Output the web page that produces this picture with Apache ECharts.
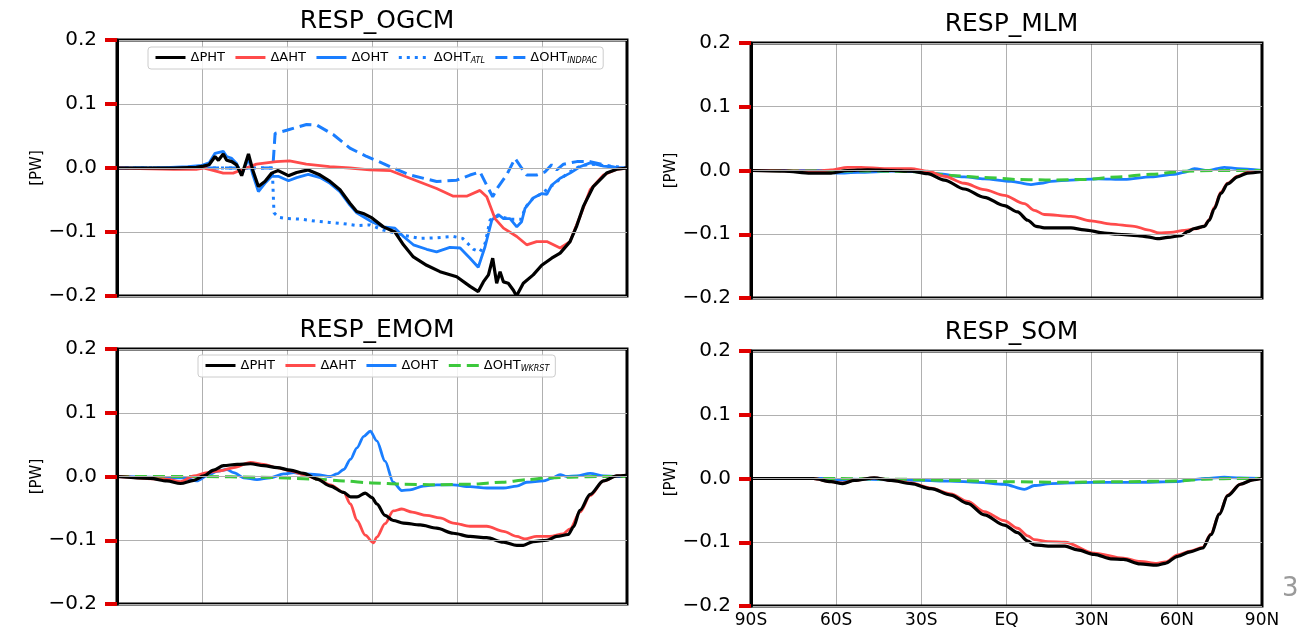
<!DOCTYPE html>
<html>
<head>
<meta charset="utf-8">
<title>Meridional heat transport response</title>
<script src="https://cdn.jsdelivr.net/npm/echarts@6/dist/echarts.min.js"></script>
<style>
  html, body { margin: 0; padding: 0; background: #fff; }
  #chart { width: 1301px; height: 630px; }
</style>
</head>
<body>
<div id="chart"></div>
<script>
// tick labels
const xTickLabels = ['90S', '60S', '30S', 'EQ', '30N', '60N', '90N'];
const yTickLabels = ['\u22120.2', '\u22120.1', '0.0', '0.1', '0.2'];
const panelTitles = ['RESP_OGCM', 'RESP_MLM', 'RESP_EMOM', 'RESP_SOM'];

// RESP_OGCM
const ogcmPhtLat = [-90, -70, -62, -59.5, -57.5, -55.4, -54.2, -52.5, -51.3, -49.5, -47.8, -46, -43.6, -42.1, -40.1, -37.8, -35.4, -33.1, -29.5, -26.6, -22.5, -18.3, -14.8, -11.3, -7.8, -5.4, -3.1, 0, 4, 8.1, 11.1, 14.6, 19.3, 24, 29.9, 34.6, 37.5, 39.3, 41.1, 42.6, 44, 45.2, 46.4, 48.1, 49.9, 51, 53.4, 56.9, 59.9, 63.4, 66.4, 69.9, 72.3, 74.6, 78.1, 82.8, 86.4, 90];
const ogcmPhtVal = [0, 0, 0.001, 0.003, 0.005, 0.018, 0.012, 0.022, 0.012, 0.01, 0.005, -0.012, 0.022, -0.003, -0.029, -0.021, -0.008, -0.004, -0.012, -0.007, -0.003, -0.011, -0.021, -0.034, -0.055, -0.068, -0.071, -0.078, -0.092, -0.1, -0.12, -0.139, -0.152, -0.162, -0.17, -0.185, -0.193, -0.178, -0.167, -0.141, -0.18, -0.162, -0.178, -0.18, -0.191, -0.2, -0.18, -0.167, -0.152, -0.141, -0.133, -0.115, -0.09, -0.06, -0.029, -0.008, -0.002, 0];
const ogcmAhtLat = [-90, -70, -62, -59.5, -55.8, -52.5, -49, -45.5, -40.8, -33.8, -29.1, -23.2, -15, -7.8, -0.8, 6.4, 13.4, 22.8, 28.7, 33.4, 38.1, 40.5, 43.4, 46.4, 51.1, 54.6, 58.1, 61.7, 66.4, 69.9, 73.4, 77, 81.7, 86.4, 90];
const ogcmAhtVal = [0, -0.002, -0.002, 0, -0.004, -0.008, -0.008, -0.002, 0.006, 0.01, 0.011, 0.006, 0.002, 0, -0.003, -0.004, -0.016, -0.032, -0.044, -0.044, -0.035, -0.045, -0.079, -0.094, -0.107, -0.12, -0.115, -0.115, -0.125, -0.115, -0.076, -0.034, -0.011, -0.002, 0];
const ogcmOhtLat = [-90, -75, -65, -60, -57.5, -55.4, -52.5, -51.3, -49.5, -47.8, -46, -43.6, -42.1, -40.1, -37.8, -35.4, -33.1, -29.5, -26.6, -22.5, -18.3, -14.8, -11.3, -7.8, -5.4, -0.1, 4, 8.1, 11.1, 14.6, 19.3, 22.8, 27.5, 31.1, 34.6, 37.5, 39.9, 42.3, 44.6, 46.4, 48.7, 51.1, 52.8, 54, 56.9, 59.9, 61.7, 63.4, 66.4, 69.9, 73.4, 77, 81.7, 86.4, 90];
const ogcmOhtVal = [0, 0, 0.002, 0.004, 0.008, 0.023, 0.026, 0.018, 0.015, 0.007, -0.011, 0.015, -0.01, -0.037, -0.024, -0.013, -0.013, -0.02, -0.015, -0.01, -0.015, -0.024, -0.037, -0.058, -0.07, -0.084, -0.092, -0.094, -0.107, -0.12, -0.127, -0.131, -0.124, -0.125, -0.141, -0.155, -0.123, -0.081, -0.073, -0.079, -0.079, -0.092, -0.084, -0.063, -0.047, -0.04, -0.041, -0.027, -0.016, -0.008, 0.002, 0.008, 0.003, 0.001, 0];
const ogcmAtlLat = [-90, -35.2, -34.6, -33, -30.1, -25, -20, -15, -10, -5, -0.7, 4, 11.1, 17, 22.8, 28.7, 32, 35.8, 38.1, 39.9, 41.7, 44.6, 48.7, 52.8, 54, 56.9, 59.9, 63.4, 66.4, 69.9, 73.4, 77, 81.7, 86.4, 90];
const ogcmAtlVal = [0, 0, -0.07, -0.077, -0.079, -0.08, -0.083, -0.085, -0.087, -0.09, -0.089, -0.097, -0.105, -0.11, -0.109, -0.107, -0.11, -0.127, -0.131, -0.118, -0.081, -0.075, -0.08, -0.08, -0.062, -0.047, -0.04, -0.028, -0.017, -0.006, 0.003, 0.006, 0.004, 0.002, 0];
const ogcmIndpacLat = [-90, -35, -34.2, -30.1, -23.1, -19.5, -13.6, -7.8, -1.9, 4, 6.4, 13.4, 22.8, 29.9, 34.6, 38.1, 40.5, 42.6, 44.6, 47.5, 50.5, 52.8, 54.6, 58.1, 61.1, 63.4, 65.2, 67.6, 72.3, 77, 81.7, 86.4, 90];
const ogcmIndpacVal = [0, 0, 0.054, 0.059, 0.068, 0.067, 0.052, 0.031, 0.018, 0.007, 0.002, -0.011, -0.021, -0.019, -0.011, -0.006, -0.027, -0.045, -0.029, -0.011, 0.015, 0, -0.011, -0.011, -0.006, 0.005, -0.003, 0.006, 0.01, 0.01, 0.005, 0, 0];

// RESP_EMOM
const emomPhtLat = [-90, -78.2, -72.4, -67.6, -62.9, -59.4, -55.9, -52.4, -47.6, -42.9, -38.2, -33.5, -28.8, -24.1, -19.4, -14.7, -10, -7.6, -5.3, -2.4, 0, 1.7, 4.6, 7.5, 11.1, 17, 22.8, 28.7, 34.6, 40.5, 46.4, 51.1, 53.4, 56.9, 61.7, 65.2, 69.3, 71.1, 73.4, 77, 81.7, 86.4, 90];
const emomPhtVal = [0, -0.003, -0.007, -0.011, -0.006, 0.001, 0.01, 0.017, 0.019, 0.02, 0.017, 0.014, 0.01, 0.005, -0.004, -0.015, -0.025, -0.032, -0.032, -0.026, -0.033, -0.043, -0.061, -0.069, -0.073, -0.076, -0.081, -0.089, -0.094, -0.096, -0.103, -0.108, -0.108, -0.102, -0.1, -0.094, -0.091, -0.079, -0.053, -0.028, -0.007, 0.001, 0.002];
const emomAhtLat = [-90, -72.4, -67.6, -62.9, -58.2, -53.5, -48.8, -42.9, -38.2, -33.5, -28.8, -24.1, -19.4, -14.7, -10, -7.6, -5.3, -2.4, 0.5, 1.7, 4.6, 7.5, 10.5, 14.2, 19.3, 24, 28.7, 34.6, 40.5, 46.4, 51.1, 54, 58.1, 62.8, 67.5, 69.9, 73.4, 77, 81.7, 86.4, 90];
const emomAhtVal = [0, -0.004, -0.008, 0.001, 0.006, 0.009, 0.014, 0.022, 0.019, 0.014, 0.009, 0.003, -0.004, -0.013, -0.025, -0.043, -0.069, -0.092, -0.104, -0.095, -0.074, -0.054, -0.051, -0.056, -0.061, -0.065, -0.073, -0.078, -0.078, -0.086, -0.094, -0.098, -0.094, -0.094, -0.09, -0.082, -0.056, -0.03, -0.007, 0.001, 0.002];
const emomOhtLat = [-90, -66.5, -61.8, -58.2, -54.7, -51.2, -48.8, -45.3, -40.6, -35.9, -31.2, -27.6, -24.1, -19.4, -14.7, -12.4, -10, -7.6, -5.3, -2.9, -0.6, 1.7, 4.6, 7.5, 10.5, 13.4, 18.1, 22.8, 28.7, 34.6, 40.5, 46.4, 51.1, 54.6, 60.5, 63.4, 66.4, 68.7, 72.3, 77, 81.7, 86.4, 90];
const emomOhtVal = [0, -0.002, -0.007, 0.001, 0.008, 0.011, 0.006, -0.002, -0.005, -0.002, 0.004, 0.006, 0.004, 0.003, 0, 0.004, 0.011, 0.027, 0.045, 0.063, 0.071, 0.056, 0.024, -0.009, -0.022, -0.021, -0.015, -0.013, -0.013, -0.016, -0.018, -0.018, -0.015, -0.009, -0.007, -0.003, 0.003, 0, 0.001, 0.005, 0.001, 0, 0];
const emomWkrstLat = [-90, -60, -40, -20, -10, 0, 11, 23, 35, 46, 55, 62, 70, 80, 90];
const emomWkrstVal = [0, 0, -0.001, -0.004, -0.007, -0.01, -0.012, -0.013, -0.012, -0.009, -0.005, -0.002, -0.001, 0, 0];

// RESP_MLM
const mlmPhtLat = [-90, -78.3, -68.9, -61.8, -56, -48.9, -40.7, -33.6, -27.8, -21.9, -14.9, -7.8, -0.8, 3.9, 7.5, 10.4, 13.3, 22.7, 27.4, 34.5, 39.2, 46.2, 49.7, 53.2, 56.8, 61.5, 63.8, 66.2, 69.7, 71.4, 73.2, 75.5, 77.9, 81.4, 84.9, 90];
const mlmPhtVal = [0, -0.001, -0.004, -0.004, 0, 0.001, 0, -0.001, -0.005, -0.015, -0.029, -0.042, -0.055, -0.065, -0.078, -0.0875, -0.09, -0.09, -0.093, -0.098, -0.1, -0.102, -0.104, -0.107, -0.105, -0.102, -0.096, -0.091, -0.0875, -0.078, -0.06, -0.036, -0.021, -0.01, -0.004, -0.002];
const mlmAhtLat = [-90, -66.5, -61.8, -56, -51.3, -43, -33.6, -27.8, -21.9, -14.9, -7.8, -0.8, 6.3, 9.8, 13.3, 22.7, 29.8, 36.8, 45, 49.7, 53.8, 57.9, 62.6, 67.3, 69.7, 71.4, 73.2, 75.5, 77.9, 81.4, 84.9, 90];
const mlmAhtVal = [0, -0.001, 0.001, 0.005, 0.005, 0.003, 0.003, -0.001, -0.009, -0.02, -0.03, -0.039, -0.052, -0.0625, -0.069, -0.072, -0.079, -0.084, -0.0875, -0.093, -0.098, -0.097, -0.094, -0.091, -0.087, -0.077, -0.058, -0.034, -0.02, -0.009, -0.003, -0.001];
const mlmOhtLat = [-90, -65, -59.5, -52.4, -40, -30, -24.2, -14.9, -7.8, 1.6, 8.6, 12.1, 15.7, 22.7, 32.1, 41.5, 50.9, 59.1, 62.6, 66.2, 70.9, 76.7, 81.4, 90];
const mlmOhtVal = [0, 0, -0.004, -0.003, -0.001, -0.002, -0.005, -0.01, -0.013, -0.017, -0.022, -0.02, -0.017, -0.015, -0.013, -0.014, -0.01, -0.006, -0.003, 0.003, 0, 0.005, 0.003, 0];
const mlmWkrstLat = [-90, -40, -30, -19.6, -7.8, 3.9, 15.7, 27.4, 39.2, 50.9, 62.6, 74.4, 90];
const mlmWkrstVal = [0, -0.001, -0.002, -0.008, -0.011, -0.014, -0.015, -0.014, -0.01, -0.006, -0.001, 0, 0];

// RESP_SOM
const somPhtLat = [-90, -68, -61.8, -57.7, -53.6, -46.6, -40.7, -33.6, -26.6, -19.6, -13.7, -7.8, -0.8, 3.9, 7.5, 9.8, 14.7, 20.6, 25, 30.9, 36.8, 41.2, 47.1, 52.9, 55.9, 60.3, 64.7, 69.1, 72, 75, 77.9, 82.4, 86.8, 90];
const somPhtVal = [0, 0, -0.005, -0.008, -0.003, 0.001, -0.003, -0.008, -0.016, -0.026, -0.039, -0.057, -0.073, -0.085, -0.098, -0.104, -0.106, -0.106, -0.112, -0.119, -0.126, -0.127, -0.134, -0.136, -0.133, -0.122, -0.115, -0.109, -0.088, -0.056, -0.027, -0.009, -0.002, 0];
const somAhtLat = [-90, -68, -61.8, -57.7, -53.6, -46.6, -40.7, -33.6, -26.6, -19.6, -13.7, -7.8, -0.8, 3.9, 7.5, 9.8, 14.7, 20.6, 30.9, 41.2, 47.1, 52.9, 55.9, 60.3, 64.7, 69.1, 72, 75, 77.9, 82.4, 86.8, 90];
const somAhtVal = [0, 0, -0.005, -0.007, -0.003, 0.001, -0.003, -0.007, -0.015, -0.024, -0.036, -0.052, -0.066, -0.078, -0.09, -0.096, -0.099, -0.1, -0.117, -0.125, -0.13, -0.133, -0.131, -0.12, -0.114, -0.108, -0.087, -0.055, -0.026, -0.009, -0.002, 0];
const somOhtLat = [-90, -62, -58, -55, -40, -30, -20, -10, -0.8, 6.3, 9.8, 15.7, 30, 45, 60.3, 65, 70, 76.7, 82, 90];
const somOhtVal = [0, 0, -0.003, -0.001, -0.002, -0.003, -0.004, -0.006, -0.009, -0.017, -0.011, -0.008, -0.006, -0.006, -0.005, -0.002, 0, 0.002, 0.001, 0];
const somWkrstLat = [-90, -60, -40, -20, 0, 20, 40, 60, 70, 80, 90];
const somWkrstVal = [0, 0, -0.001, -0.003, -0.005, -0.006, -0.005, -0.004, -0.001, 0, 0];

const FONT = 'DejaVu Sans';
const C_PHT = '#000000';
const C_AHT = '#ff4b4b';
const C_OHT = '#1a7eff';
const C_WKRST = '#3cc83c';

// panel boxes: [left, top, width, height]
const boxes = [
  [117, 40, 510, 256],
  [751, 43, 511, 255],
  [117, 349, 510, 255],
  [751, 351, 511, 255]
];

const chart = echarts.init(document.getElementById('chart'), null, { renderer: 'canvas' });

function mkLine(gi, name, lats, vals, color, width, type, smooth) {
  return {
    type: 'line',
    name: name,
    xAxisIndex: gi,
    yAxisIndex: gi,
    data: lats.map((x, i) => [x, vals[i]]),
    symbol: 'none',
    showSymbol: false,
    smooth: smooth,
    smoothMonotone: 'x',
    clip: true,
    lineStyle: { color: color, width: width, type: type, cap: 'butt' },
    itemStyle: { color: color },
    z: 2,
    animation: false
  };
}

const series = [
  // OGCM (grid 0)
  mkLine(0, 'ΔOHT_INDPAC', ogcmIndpacLat, ogcmIndpacVal, C_OHT, 3, [12, 6], false),
  mkLine(0, 'ΔOHT_ATL', ogcmAtlLat, ogcmAtlVal, C_OHT, 3, [3, 5], false),
  mkLine(0, 'ΔOHT', ogcmOhtLat, ogcmOhtVal, C_OHT, 2.8, 'solid', false),
  mkLine(0, 'ΔAHT', ogcmAhtLat, ogcmAhtVal, C_AHT, 2.8, 'solid', false),
  mkLine(0, 'ΔPHT', ogcmPhtLat, ogcmPhtVal, C_PHT, 3.2, 'solid', false),
  // MLM (grid 1)
  mkLine(1, 'ΔOHT', mlmOhtLat, mlmOhtVal, C_OHT, 2.8, 'solid', 0.3),
  mkLine(1, 'ΔOHT_WKRST', mlmWkrstLat, mlmWkrstVal, C_WKRST, 3, [12, 6], 0.3),
  mkLine(1, 'ΔAHT', mlmAhtLat, mlmAhtVal, C_AHT, 2.8, 'solid', 0.3),
  mkLine(1, 'ΔPHT', mlmPhtLat, mlmPhtVal, C_PHT, 3.2, 'solid', 0.3),
  // EMOM (grid 2)
  mkLine(2, 'ΔOHT', emomOhtLat, emomOhtVal, C_OHT, 2.8, 'solid', 0.3),
  mkLine(2, 'ΔOHT_WKRST', emomWkrstLat, emomWkrstVal, C_WKRST, 3, [12, 6], 0.3),
  mkLine(2, 'ΔAHT', emomAhtLat, emomAhtVal, C_AHT, 2.8, 'solid', 0.3),
  mkLine(2, 'ΔPHT', emomPhtLat, emomPhtVal, C_PHT, 3.2, 'solid', 0.3),
  // SOM (grid 3)
  mkLine(3, 'ΔOHT', somOhtLat, somOhtVal, C_OHT, 2.8, 'solid', 0.3),
  mkLine(3, 'ΔOHT_WKRST', somWkrstLat, somWkrstVal, C_WKRST, 3, [12, 6], 0.3),
  mkLine(3, 'ΔAHT', somAhtLat, somAhtVal, C_AHT, 2.8, 'solid', 0.3),
  mkLine(3, 'ΔPHT', somPhtLat, somPhtVal, C_PHT, 3.2, 'solid', 0.3)
];

// grid border sits above the grey grid lines, like the plot spines
const grids = boxes.map(b => ({
  left: b[0], top: b[1], width: b[2], height: b[3],
  show: true,
  borderColor: '#000',
  borderWidth: 3,
  z: 5
}));

const splitStyle = { show: true, lineStyle: { color: '#b0b0b0', width: 1 } };

const xAxes = boxes.map((b, i) => ({
  type: 'value',
  gridIndex: i,
  min: -90,
  max: 90,
  interval: 30,
  axisLine: { show: false, onZero: false },
  axisTick: { show: false },
  axisLabel: {
    show: i === 3,
    margin: 6,
    fontFamily: FONT,
    fontSize: 17,
    color: '#000',
    formatter: v => xTickLabels[Math.round((v + 90) / 30)]
  },
  splitLine: splitStyle
}));

// y ticks sit outside the left spine, between label and frame
const yAxes = boxes.map((b, i) => ({
  type: 'value',
  gridIndex: i,
  position: 'left',
  min: -0.2,
  max: 0.2,
  interval: 0.1,
  name: '[PW]',
  nameLocation: 'middle',
  nameGap: 69,
  nameTextStyle: { fontFamily: FONT, fontSize: 15, color: '#000' },
  axisLine: { show: true, onZero: false, lineStyle: { color: '#000', width: 3 } },
  axisTick: { show: true, length: 12, lineStyle: { color: '#e00000', width: 4 } },
  axisLabel: {
    margin: 20,
    fontFamily: FONT,
    fontSize: 20,
    color: '#000',
    formatter: v => yTickLabels[Math.round((v + 0.2) / 0.1)]
  },
  splitLine: splitStyle,
  z: 8
}));

const titles = boxes.map((b, i) => ({
  text: panelTitles[i],
  left: b[0] + b[2] / 2,
  top: b[1] - 36,
  textAlign: 'center',
  textStyle: { fontFamily: FONT, fontSize: 25, fontWeight: 'normal', color: '#000' }
}));

const legendRich = {
  m: { fontFamily: FONT, fontSize: 13, color: '#000' },
  s: { fontFamily: FONT, fontSize: 8, fontStyle: 'italic', color: '#000', verticalAlign: 'bottom', padding: [7, 0, 0, 0] }
};
function legendFmt(name) {
  const p = name.split('_');
  return p.length > 1 ? '{m|' + p[0] + '}{s|' + p[1] + '}' : '{m|' + name + '}';
}
function mkLegend(left, top, names) {
  return {
    left: left,
    top: top,
    orient: 'horizontal',
    data: names,
    itemWidth: 30,
    itemHeight: 12,
    itemGap: 9,
    padding: [4, 6, 4, 6],
    borderColor: '#cccccc',
    borderWidth: 1,
    borderRadius: 3,
    backgroundColor: 'rgba(255,255,255,0.85)',
    selectedMode: false,
    itemStyle: { opacity: 0, borderWidth: 0 },
    lineStyle: { width: 3 },
    formatter: legendFmt,
    textStyle: { fontFamily: FONT, fontSize: 13, color: '#000', rich: legendRich },
    z: 6
  };
}

const option = {
  backgroundColor: '#ffffff',
  animation: false,
  title: titles,
  legend: [
    mkLegend(148, 47, ['ΔPHT', 'ΔAHT', 'ΔOHT', 'ΔOHT_ATL', 'ΔOHT_INDPAC']),
    mkLegend(198, 355, ['ΔPHT', 'ΔAHT', 'ΔOHT', 'ΔOHT_WKRST'])
  ],
  grid: grids,
  xAxis: xAxes,
  yAxis: yAxes,
  series: series,
  graphic: [{
    type: 'text',
    left: 1282,
    top: 576,
    style: { text: '3', font: '26px "DejaVu Sans"', fill: '#9a9a9a' }
  }]
};

chart.setOption(option);
</script>
</body>
</html>
